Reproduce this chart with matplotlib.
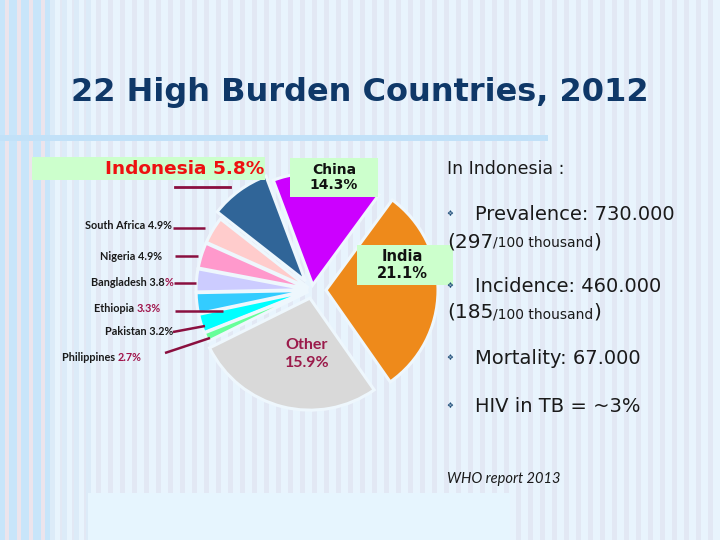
import matplotlib
matplotlib.use('Agg')
import matplotlib.pyplot as plt
from matplotlib.patches import Rectangle

# ---------------- data ----------------
countries = ['India', 'China', 'Indonesia', 'South Africa', 'Nigeria',
             'Bangladesh', 'Ethiopia', 'Pakistan', 'Philippines', 'Other']
# relative wedge sizes as drawn in the picture (percent of the full circle)
slice_sizes = [30.2, 15.8, 8.7, 3.9, 3.7, 3.3, 3.0, 2.7, 1.3, 27.4]
# percentages printed on the labels
label_pct = ['21.1%', '14.3%', '5.8%', '4.9%', '4.9%', '3.8%', '3.3%', '3.2%', '2.7%', '15.9%']
slice_colors = ['#EE8A1B', '#CC00FF', '#306598', '#FFCCCC', '#FF99CC',
                '#CCCCFF', '#33CCFF', '#00FFFF', '#66FF99', '#D9D9D9']
explode = [0.125, 0.045, 0.1, 0.035, 0.035, 0.035, 0.035, 0.035, 0.035, 0.075]

title = '22 High Burden Countries, 2012'
info_header = 'In Indonesia :'
info_bullets = ['Prevalence: 730.000', 'Incidence: 460.000', 'Mortality: 67.000', 'HIV in TB = ~3%']
rate_values = ['297', '185']
rate_unit = '/100 thousand'
source_note = 'WHO report 2013'

# ---------------- figure ----------------
W, H = 720, 540
fig = plt.figure(figsize=(W / 100, H / 100), dpi=100)
ax = fig.add_axes([0, 0, 1, 1])


def Y(y):
    return H - y


MAROON = '#8A0F3F'
NAVY = '#0F3868'

# background: light blue slide with vertical stripes
ax.add_patch(Rectangle((0, 0), W, H, color='#E8F4FD', zorder=0, lw=0))
for x in range(0, W, 12):
    ax.add_patch(Rectangle((x, 0), 5, H, color='#E2E8F4', zorder=0.1, lw=0))
ax.add_patch(Rectangle((0, 0), 50, H, color='#C8E5FA', zorder=0.2, lw=0))
for x in range(5, 50, 12):
    ax.add_patch(Rectangle((x, 0), 4, H, color='#ECE4EC', zorder=0.3, lw=0))
for x in range(50, 88, 12):
    ax.add_patch(Rectangle((x, 0), 5, H, color='#DCEBF8', zorder=0.3, lw=0))
ax.add_patch(Rectangle((88, 0), 422, Y(493), color='#E6F5FE', zorder=0.4, lw=0))
# bar under the title
ax.add_patch(Rectangle((0, Y(141)), 548, 6, color='#C2E1F8', zorder=0.5, lw=0))

# title
ax.text(360, Y(101), title, ha='center', va='baseline', fontsize=23,
        fontweight='bold', color=NAVY, family='DejaVu Sans', zorder=5)

# ---------------- pie ----------------
R = 112
wedges, _ = ax.pie(slice_sizes, colors=slice_colors, startangle=-55, counterclock=True,
                   explode=[e * R for e in explode], center=(312, Y(290)), radius=R,
                   wedgeprops=dict(edgecolor='#EEF7FD', linewidth=2.2, zorder=2))
ax.set_xlim(0, W)
ax.set_ylim(0, H)
ax.set_aspect('auto')
ax.axis('off')

fig.canvas.draw()
rend = fig.canvas.get_renderer()


def run_text(parts, x, y, ha='left', **common):
    """Draw a run of differently styled pieces on one baseline."""
    if ha == 'left':
        cx = x
        for s, props in parts:
            t = ax.text(cx, y, s, ha='left', va='baseline', zorder=6, **{**common, **props})
            cx = t.get_window_extent(rend).x1
    else:
        cx = x
        for s, props in reversed(parts):
            t = ax.text(cx, y, s, ha='right', va='baseline', zorder=6, **{**common, **props})
            cx = t.get_window_extent(rend).x0


# Indonesia label with green box
ax.add_patch(Rectangle((32, Y(180)), 233, 23, color='#CCFFCC', zorder=4, lw=0))
ax.text(264, Y(174.5), f'{countries[2]} {label_pct[2]}', ha='right', va='baseline',
        fontsize=13.3, fontweight='bold', color='#EE1111', family='DejaVu Sans', zorder=6)
ax.plot([175, 230], [Y(187), Y(187)], color=MAROON, lw=2, zorder=3)

# China box
ax.add_patch(Rectangle((290, Y(197)), 88, 39, color='#CCFFCC', zorder=4, lw=0))
ax.text(334, Y(177.5), f'{countries[1]}\n{label_pct[1]}', ha='center', va='center',
        fontsize=10, fontweight='bold', color='#111111', family='DejaVu Sans',
        linespacing=1.15, zorder=6)
# India box
ax.add_patch(Rectangle((357, Y(285)), 96, 40, color='#CCFFCC', zorder=4, lw=0))
ax.text(402, Y(265), f'{countries[0]}\n{label_pct[0]}', ha='center', va='center',
        fontsize=10.5, fontweight='bold', color='#111111', family='DejaVu Sans',
        linespacing=1.15, zorder=6)
# Other label
ax.text(307, Y(354), f'{countries[9]}\n{label_pct[9]}', ha='center', va='center',
        fontsize=11.5, fontweight='bold', color='#9B1B4B', family='Lato',
        linespacing=1.45, zorder=6)

# small left labels
lab_font = dict(fontsize=7.8, fontweight='bold', family='Lato', color='#1A1A1A')
pm = dict(color='#A0144B')
run_text([(f'{countries[3]} {label_pct[3]}', {})], 172, Y(229), ha='right', **lab_font)
run_text([(f'{countries[4]} {label_pct[4]}', {})], 162, Y(260), ha='right', **lab_font)
run_text([(f'{countries[5]} {label_pct[5][:-1]}', {}), ('%', pm)], 173, Y(286), ha='right', **lab_font)
run_text([(f'{countries[6]} ', {}), (label_pct[6], pm)], 161, Y(312), ha='right', **lab_font)
run_text([(f'{countries[7]} {label_pct[7]}', {})], 173, Y(335), ha='right', **lab_font)
run_text([(f'{countries[8]} ', {}), (label_pct[8], pm)], 142, Y(361), ha='right', **lab_font)

leader_lines = [((173, 228), (205, 228)), ((175, 256), (198, 256)), ((174, 283), (196, 283)),
                ((175, 311), (223, 311)), ((173, 332), (205, 326)), ((165, 353), (210, 338))]
for (x0, y0), (x1, y1) in leader_lines:
    ax.plot([x0, x1], [Y(y0), Y(y1)], color=MAROON, lw=1.8, zorder=3, solid_capstyle='butt')

# ---------------- right text ----------------
tf = dict(family='DejaVu Sans', color='#1A1A1A')
ax.text(447, Y(174), info_header, ha='left', va='baseline', fontsize=12.5, zorder=6, **tf)

bullet_y = [220, 292, 364, 412]
for by, txt in zip(bullet_y, info_bullets):
    ax.text(450, Y(by - 4), '\u2756', ha='center', va='baseline', fontsize=5.5,
            color='#1F4E79', family='DejaVu Sans', zorder=6)
    ax.text(475, Y(by), txt, ha='left', va='baseline', fontsize=14, zorder=6, **tf)

for ry, val in zip([247, 318], rate_values):
    run_text([(f'({val}', dict(fontsize=14.5)), (rate_unit, dict(fontsize=10)), (')', dict(fontsize=14.5))],
             447, Y(ry), ha='left', **tf)

ax.text(447, Y(483), source_note, ha='left', va='baseline', fontsize=10.5,
        style='italic', family='Lato', color='#1A1A1A', zorder=6)

fig.savefig('out.png', dpi=100)
